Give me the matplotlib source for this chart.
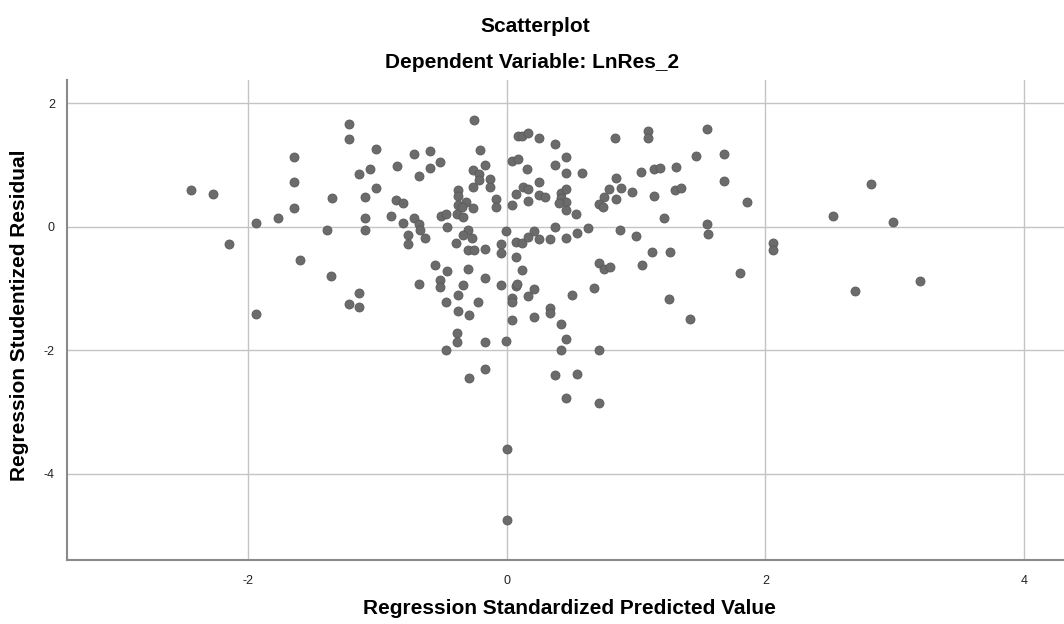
import numpy as np
import matplotlib
matplotlib.use("Agg")
import matplotlib.pyplot as plt

# standardized predicted values (x) and studentized residuals (y)
pred = [
    -2.445, -2.277, -2.153, -1.940, -1.774, -1.646, -1.646, -1.646, -1.600, -1.940,
    -1.225, -1.225, -1.014, -0.722, -0.594, -0.514, -0.594, -0.679, -0.849, -1.060,
    -1.145, -1.016, -1.101, -1.354, -1.094, -1.094, -1.395, -1.362, -0.859, -0.803,
    -0.893, -0.807, -0.720, -0.679, -0.674, -0.766, -0.766, -0.635, -0.258, -0.210,
    -0.171, -0.261, -0.215, -0.215, -0.261, -0.132, -0.132, -0.380, -0.380, -0.380,
    -0.313, -0.346, -0.261, -0.086, -0.086, 0.038, 0.074, 0.038, 0.090, -0.506,
    -0.472, -0.387, -0.339, -0.465, -0.300, -0.336, -0.266, -0.390, -0.300, -0.256,
    -0.171, -0.009, -0.047, -0.047, 0.074, 0.074, -0.555, -0.465, -0.297, -0.169,
    -0.679, -0.514, -0.514, -0.339, -0.047, -1.143, -1.225, -1.143,
    0.038, 0.038, 0.074, -0.467, -0.380, -0.380, -0.295, -0.220, 0.038, -0.385,
    -0.385, -0.467, -0.169, -0.009, -0.169, -0.295, 0.000, 0.000,
    0.120, 0.164, 0.247, 0.376, 0.461, 0.376, 0.461, 0.582, 0.834, 1.092,
    1.092, 1.551, 1.466, 1.041, 1.136, 1.183, 1.306, 0.842, 0.790, 0.886,
    0.842, 0.966, 0.749, 0.713, 0.744, 1.136, 1.304, 1.345, 1.213, 1.551,
    1.556, 1.002, 0.878, 1.126, 1.260, 1.049, 0.713, 0.752, 0.796, 0.672,
    0.087, 0.159, 0.249, 0.125, 0.164, 0.164, 0.249, 0.293, 0.422, 0.461,
    0.422, 0.461, 0.404, 0.461, 0.538, 0.120, 0.164, 0.208, 0.249, 0.332,
    0.373, 0.461, 0.543, 0.628, 0.120, 0.079, 0.208,
    0.164, 0.208, 0.332, 0.332, 0.415, 0.461, 0.415, 0.504, 1.255, 1.420,
    0.711, 0.376, 0.543, 0.461, 0.711,
    1.677, 1.677, 1.858, 1.806, 2.059, 2.059, 2.523, 2.814, 2.990, 2.693, 3.198,
]
resid = [
    0.595, 0.530, -0.280, 0.070, 0.146, 1.125, 0.720, 0.300, -0.535, -1.415,
    1.660, 1.417, 1.264, 1.178, 1.232, 1.044, 0.946, 0.827, 0.989, 0.935,
    0.849, 0.632, 0.486, 0.470, 0.136, -0.053, -0.058, -0.800, 0.433, 0.389,
    0.173, 0.060, 0.136, 0.044, -0.053, -0.130, -0.280, -0.188, 1.734, 1.238,
    0.995, 0.914, 0.854, 0.757, 0.648, 0.773, 0.638, 0.595, 0.498, 0.352,
    0.405, 0.324, 0.298, 0.444, 0.324, 0.357, 0.530, 1.070, 1.480, 0.178,
    0.206, 0.206, 0.162, -0.005, -0.053, -0.135, -0.188, -0.259, -0.378, -0.378,
    -0.367, -0.070, -0.285, -0.421, -0.243, -0.486, -0.620, -0.718, -0.686, -0.826,
    -0.934, -0.864, -0.980, -0.945, -0.945, -1.070, -1.258, -1.297,
    -1.160, -1.216, -0.960, -1.216, -1.112, -1.360, -1.426, -1.220, -1.507, -1.718,
    -1.874, -1.998, -1.874, -1.848, -2.300, -2.447, -3.603, -4.754,
    1.480, 1.524, 1.437, 1.340, 1.125, 1.000, 0.865, 0.865, 1.443, 1.551,
    1.433, 1.583, 1.146, 0.891, 0.930, 0.956, 0.963, 0.794, 0.616, 0.627,
    0.454, 0.562, 0.476, 0.368, 0.324, 0.498, 0.595, 0.622, 0.136, 0.044,
    -0.118, -0.151, -0.053, -0.415, -0.410, -0.626, -0.583, -0.690, -0.648, -0.998,
    1.092, 0.930, 0.724, 0.638, 0.611, 0.417, 0.514, 0.486, 0.541, 0.606,
    0.460, 0.405, 0.379, 0.270, 0.206, -0.259, -0.162, -0.070, -0.200, -0.204,
    -0.010, -0.178, -0.107, -0.016, -0.700, -0.934, -1.015,
    -1.123, -1.469, -1.323, -1.404, -1.582, -1.825, -2.003, -1.107, -1.177, -1.490,
    -1.998, -2.403, -2.392, -2.781, -2.852,
    1.178, 0.746, 0.400, -0.756, -0.270, -0.378, 0.178, 0.697, 0.081, -1.037, -0.875,
]

xticks = [-2, 0, 2, 4]
yticks = [2, 0, -2, -4]

plt.rcParams['font.family'] = ['Liberation Sans', 'DejaVu Sans']
plt.rcParams['axes.unicode_minus'] = False

fig = plt.figure(figsize=(10.64, 6.24), dpi=100)
ax = fig.add_axes([0.0633, 0.1026, 0.9367, 0.7692])

ax.scatter(pred, resid, s=42, c='#6b6b6b', edgecolors='#5a5a5a', linewidths=0.6, zorder=3)

ax.set_xlim(-3.40, 4.31)
ax.set_ylim(-5.40, 2.38)
ax.set_xticks(xticks)
ax.set_yticks(yticks)
ax.grid(True, color='#c4c4c4', linewidth=1.0, zorder=0)
ax.tick_params(length=0, labelsize=9, colors='#222222')
ax.tick_params(axis='x', pad=11)
ax.tick_params(axis='y', pad=9)
for s in ['top', 'right']:
    ax.spines[s].set_visible(False)
for s in ['left', 'bottom']:
    ax.spines[s].set_color('#8a8a8a')
    ax.spines[s].set_linewidth(1.5)

ax.set_xlabel('Regression Standardized Predicted Value', fontsize=15, fontweight='bold', va='center')
ax.set_ylabel('Regression Studentized Residual', fontsize=15, fontweight='bold', va='center')
ax.xaxis.set_label_coords(0.504, -0.102)
ax.yaxis.set_label_coords(-0.0485, 0.51)

fig.text(0.503, 0.958, 'Scatterplot', ha='center', va='center', fontsize=15, fontweight='bold')
fig.text(0.5, 0.900, 'Dependent Variable: LnRes_2', ha='center', va='center', fontsize=15, fontweight='bold')

fig.savefig('out.png', dpi=100)
